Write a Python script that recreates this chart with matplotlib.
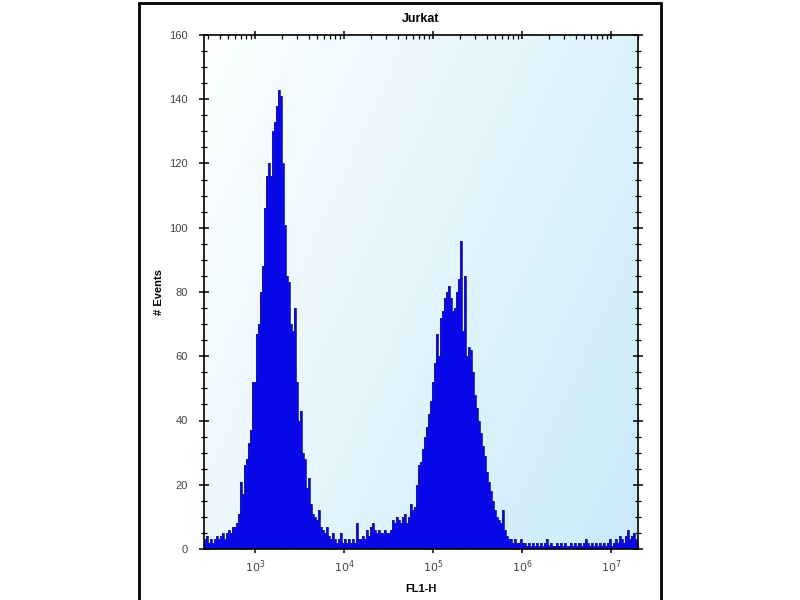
import numpy as np
import matplotlib
matplotlib.use("Agg")
import matplotlib.pyplot as plt
from matplotlib.ticker import LogLocator, MultipleLocator, NullFormatter, FixedLocator
from matplotlib.patches import Rectangle

# ---- data ----
title = "Jurkat"
x_label = "FL1-H"
y_label = "# Events"
log_start = 2.427          # log10 of first bin edge
log_bin_width = 0.0225     # decade width of each bin
counts_low = [3, 4, 2, 3, 2, 3, 4, 3, 4, 5, 3, 5, 6, 5, 7, 7, 8, 11, 21, 17,
              26, 28, 33, 37, 52, 52, 67, 70, 80, 88, 106, 116, 120, 116, 130, 133, 138, 143, 141, 120,
              101, 85, 83, 70, 68, 75, 52, 40, 43, 30, 28, 19, 22, 14, 11, 10, 9, 12, 7, 6,
              5, 7, 4, 3, 5, 3, 2, 3, 5, 2, 3]
counts_mid = [2, 3, 2, 3, 2, 8, 3, 3, 4, 3, 6, 4, 7, 8, 6, 5, 6, 5, 5, 6,
              5, 5, 6, 9, 8, 10, 9, 8, 10, 11, 8, 10, 14, 12]
counts_high = [13, 20, 26, 27, 31, 35, 38, 42, 46, 52, 58, 67, 60, 72, 74, 78, 80, 82, 78, 74,
               75, 80, 84, 96, 68, 85, 60, 63, 62, 55, 48, 44, 40, 36, 32, 29, 24, 21, 18, 15,
               12, 10, 9, 8, 12, 6, 4, 3, 3, 2, 3, 2, 2]
counts_tail = [3, 2, 2, 1, 2, 1, 2, 1, 2, 1, 2, 1, 2, 3, 1, 2, 1, 1, 2, 1,
               2, 1, 2, 1, 1, 2, 1, 2, 1, 2, 1, 2, 3, 2, 1, 2, 1, 2, 1, 2,
               1, 2, 1, 2, 3, 1, 2, 3, 2, 4, 3, 2, 4, 6, 3, 4, 5, 3]
y_ticks = [0, 20, 40, 60, 80, 100, 120, 140, 160]
x_decades = [3, 4, 5, 6, 7]

counts = np.array(counts_low + counts_mid + counts_high + counts_tail, dtype=float)
edges = 10 ** (log_start + log_bin_width * np.arange(len(counts) + 1))

plt.rcParams['font.family'] = ['Liberation Sans', 'DejaVu Sans']

fig = plt.figure(figsize=(8, 6), dpi=100)
fig.patch.set_facecolor('white')

# outer frame
fig.add_artist(Rectangle((139 / 800, -0.05), (661 - 139) / 800, 1.05 - 3 / 600,
                         transform=fig.transFigure, fill=False, edgecolor='black', lw=2))

ax = fig.add_axes([204 / 800, 1 - 549 / 600, (638 - 204) / 800, (549 - 35) / 600])
ax.set_xscale('log')
ax.set_xlim(10 ** 2.427, 10 ** 7.303)
ax.set_ylim(0, 160)

# gradient background
gx, gy = np.meshgrid(np.linspace(0, 1, 200), np.linspace(0, 1, 200))
t = np.clip((1.3 * gx + 0.7 * gy) / 2, 0, 1)
c0 = np.array([0.995, 1.0, 1.0])
c1 = np.array([0.79, 0.92, 0.975])
img = c0[None, None, :] * (1 - t[..., None]) + c1[None, None, :] * t[..., None]
ax.imshow(img, extent=[0, 1, 0, 1], transform=ax.transAxes, origin='upper',
          aspect='auto', zorder=0)

ax.stairs(counts, edges, fill=True, color='#0808e8', zorder=2)
ax.stairs(counts, edges, color='#1c1c90', lw=0.6, zorder=3)

for s in ax.spines.values():
    s.set_linewidth(1.2)
    s.set_color('black')
    s.set_zorder(5)

ax.xaxis.set_major_locator(FixedLocator([10.0 ** d for d in x_decades]))
ax.xaxis.set_minor_locator(LogLocator(base=10, subs=np.arange(2, 10), numticks=20))
ax.xaxis.set_minor_formatter(NullFormatter())
ax.set_xticklabels([f"$10^{{{d}}}$" for d in x_decades])
ax.yaxis.set_major_locator(FixedLocator(y_ticks))
ax.yaxis.set_minor_locator(MultipleLocator(5))
ax.set_yticklabels([str(v) for v in y_ticks])

ax.tick_params(axis='both', which='major', labelsize=8, labelcolor='#444444',
               color='black', width=1.1)
ax.tick_params(axis='x', which='major', direction='inout', length=6, top=True, pad=4)
ax.tick_params(axis='x', which='minor', direction='in', length=3, top=True, width=0.9)
ax.tick_params(axis='y', which='major', direction='inout', length=7, right=True, pad=8)
ax.tick_params(axis='y', which='minor', direction='inout', length=5, right=True, width=0.9)

ax.set_title(title, fontsize=9, fontweight='bold', pad=9)
ax.set_xlabel(x_label, fontsize=8, fontweight='bold', labelpad=6)
ax.set_ylabel(y_label, fontsize=8, fontweight='bold', labelpad=4)

fig.savefig("out.png", dpi=100)
